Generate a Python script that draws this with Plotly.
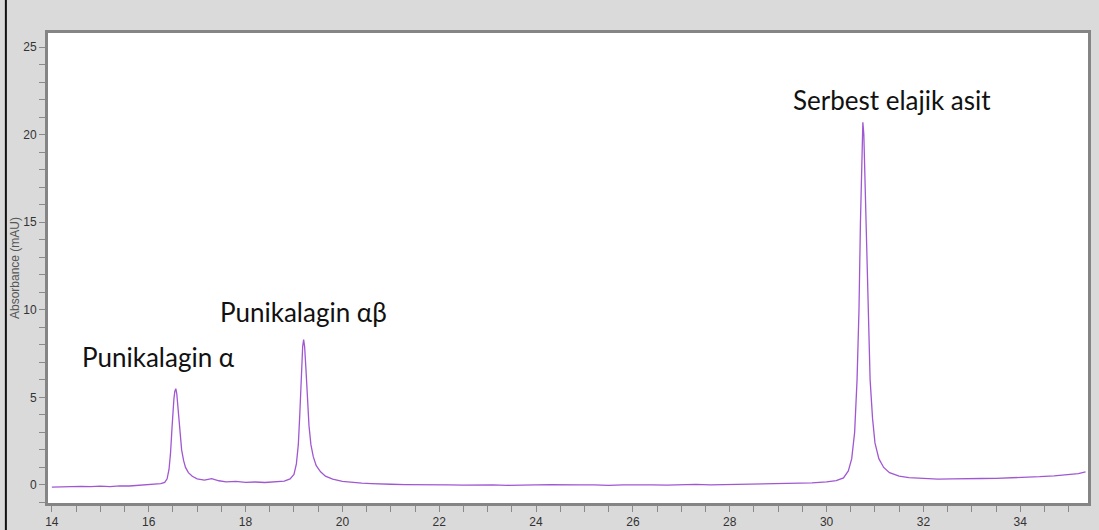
import plotly.graph_objects as go

# Retention time (min) and absorbance (mAU)
time_min = [
    14.0, 14.2, 14.4, 14.6, 14.8, 15.0, 15.2, 15.4, 15.6, 15.8, 16.0, 16.15, 16.25, 16.33,
    16.38, 16.42, 16.45, 16.48, 16.50, 16.52, 16.54, 16.56, 16.58, 16.60, 16.62, 16.65,
    16.68, 16.72, 16.76, 16.82, 16.90, 17.0, 17.15, 17.3, 17.45, 17.6, 17.8, 18.0, 18.2,
    18.4, 18.6, 18.8, 18.92, 19.0, 19.05, 19.09, 19.12, 19.15, 19.18, 19.20, 19.22, 19.25,
    19.28, 19.31, 19.35, 19.40, 19.46, 19.55, 19.65, 19.80, 20.0, 20.2, 20.4, 20.6, 20.8,
    21.0, 21.3, 21.6, 21.9, 22.2, 22.5, 22.8, 23.1, 23.4, 23.7, 24.0, 24.3, 24.6, 24.9,
    25.2, 25.5, 25.8, 26.1, 26.4, 26.7, 27.0, 27.3, 27.6, 27.9, 28.2, 28.5, 28.8, 29.1,
    29.4, 29.7, 30.0, 30.2, 30.35, 30.45, 30.52, 30.58, 30.63, 30.67, 30.70, 30.73, 30.75,
    30.77, 30.80, 30.83, 30.86, 30.90, 30.95, 31.0, 31.08, 31.18, 31.3, 31.5, 31.7, 32.0,
    32.3, 32.6, 32.9, 33.2, 33.5, 33.8, 34.1, 34.4, 34.7, 35.0, 35.2, 35.35,
]
absorbance_mau = [
    -0.12, -0.10, -0.12, -0.08, -0.10, -0.07, -0.09, -0.05, -0.06, -0.02, 0.00, 0.05, 0.08, 0.15,
    0.35, 0.9, 1.8, 3.2, 4.2, 4.9, 5.35, 5.5, 5.2, 4.5, 3.7, 2.8,
    2.0, 1.4, 1.0, 0.7, 0.5, 0.35, 0.28, 0.36, 0.24, 0.18, 0.20, 0.15, 0.17,
    0.14, 0.17, 0.22, 0.35, 0.6, 1.2, 2.3, 4.0, 6.2, 7.9, 8.3, 7.9, 6.5,
    4.8, 3.4, 2.3, 1.6, 1.1, 0.75, 0.5, 0.33, 0.2, 0.14, 0.10, 0.08, 0.05,
    0.04, 0.02, 0.03, 0.00, 0.01, -0.01, 0.01, 0.00, -0.02, 0.01, 0.00, 0.02, -0.01, 0.00,
    0.01, -0.02, 0.00, 0.02, 0.00, -0.01, 0.01, 0.03, 0.00, 0.02, 0.01, 0.03, 0.05, 0.06,
    0.08, 0.12, 0.18, 0.25, 0.4, 0.8, 1.5, 3.0, 6.0, 10.0, 15.0, 19.0, 20.7,
    20.0, 16.5, 12.5, 9.0, 6.0, 3.8, 2.4, 1.5, 1.0, 0.7, 0.5, 0.42, 0.36,
    0.33, 0.35, 0.34, 0.37, 0.38, 0.40, 0.42, 0.47, 0.52, 0.58, 0.65, 0.75,
]

peak_labels = ["Punikalagin α", "Punikalagin αβ", "Serbest elajik asit"]
label_x = [16.2, 19.2, 31.35]
label_y = [7.3, 9.9, 22.0]

x_tickvals = [14, 16, 18, 20, 22, 24, 26, 28, 30, 32, 34]
y_tickvals = [0, 5, 10, 15, 20, 25]

fig = go.Figure()
fig.add_trace(go.Scatter(
    x=time_min, y=absorbance_mau, mode="lines",
    line=dict(color="#a058d2", width=1.3), hoverinfo="skip", showlegend=False,
))

for txt, lx, ly in zip(peak_labels, label_x, label_y):
    fig.add_annotation(x=lx, y=ly, text=txt, showarrow=False,
                       font=dict(family="Lato", size=26, color="#111111"))

fig.add_annotation(xref="paper", yref="paper", x=0.5, y=0, yshift=-23, yanchor="top",
                   text="Time (min)", showarrow=False,
                   font=dict(family="Liberation Sans", size=12, color="#444444"))

fig.add_shape(type="line", xref="paper", yref="paper", x0=-0.0405, x1=-0.0405,
              y0=-0.2, y1=1.2, line=dict(color="#111111", width=2))

axis_common = dict(
    showgrid=False, zeroline=False, showline=True, mirror=True, automargin=False,
    linecolor="#858585", linewidth=3, ticks="outside", ticklen=6,
    tickcolor="#8a8a8a", tickwidth=1,
    tickfont=dict(family="Liberation Sans", size=12, color="#333333"),
)

fig.update_xaxes(range=[13.92, 35.4], tickvals=x_tickvals,
                 minor=dict(dtick=0.5, ticks="outside", ticklen=6, tickcolor="#8a8a8a"),
                 **axis_common)
fig.update_yaxes(range=[-1.03, 25.8], tickvals=y_tickvals,
                 minor=dict(dtick=1, ticks="outside", ticklen=6, tickcolor="#8a8a8a"),
                 title=dict(text="Absorbance (mAU)", standoff=2,
                            font=dict(family="Liberation Sans", size=12, color="#555555")),
                 **axis_common)

fig.update_layout(
    width=1099, height=530,
    margin=dict(l=48, r=11, t=33, b=27),
    paper_bgcolor="#dadada", plot_bgcolor="#ffffff",
)

fig.write_html("out.html", config={"displayModeBar": False},
               post_script="document.body.style.margin='0';document.body.style.overflow='hidden';")
